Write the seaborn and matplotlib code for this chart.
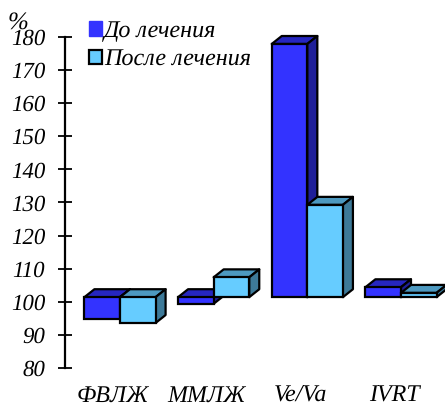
import matplotlib
matplotlib.use("Agg")
import matplotlib.pyplot as plt
import matplotlib.transforms as mtrans
from matplotlib.patches import Patch, Polygon
import pandas as pd
import seaborn as sns

# values
categories = ["ФВЛЖ", "ММЛЖ", "Ve/Va", "IVRT"]
before = [94.8, 99.4, 177.9, 104.4]
after = [93.6, 107.4, 129.3, 102.7]
series_names = ["До лечения", "После лечения"]
baseline = 101.4
y_ticks = list(range(80, 181, 10))

# colours: front, top, side
colors_front = ["#3333FF", "#66CCFF"]
colors_top = ["#2626C0", "#4D99C0"]
colors_side = ["#1F1F99", "#3D7A99"]
depth_x = 0.107
depth_y = 2.4

sns.set_style("white")
plt.rcParams["font.family"] = ["Liberation Serif", "DejaVu Serif"]
plt.rcParams["font.style"] = "italic"
plt.rcParams["text.hinting"] = "none"

df = pd.DataFrame({
    "cat": categories * 2,
    "serie": [series_names[0]] * 4 + [series_names[1]] * 4,
    "value": before + after,
})
df["delta"] = df["value"] - baseline

fig = plt.figure(figsize=(4.45, 4.07), dpi=100)
ax = fig.add_axes([65 / 445, 1 - 368 / 407, 380 / 445, 331 / 407])

sns.barplot(data=df, x="cat", y="delta", hue="serie", hue_order=series_names,
            palette=colors_front, saturation=1, width=0.76, gap=0, dodge=True,
            edgecolor="black", linewidth=1.6, bottom=baseline, legend=False, ax=ax)

# fake 3D: top and side face for every bar
for s, container in enumerate(ax.containers):
    for i, bar in enumerate(container):
        x0 = bar.get_x()
        x1 = x0 + bar.get_width()
        y0 = min(bar.get_y(), bar.get_y() + bar.get_height())
        y1 = max(bar.get_y(), bar.get_y() + bar.get_height())
        z = 3 + i * 3 + s * 1.5
        top = Polygon([(x0, y1), (x1, y1), (x1 + depth_x, y1 + depth_y), (x0 + depth_x, y1 + depth_y)],
                      fc=colors_top[s], ec="black", lw=1.6, zorder=z, clip_on=False, joinstyle="round")
        side = Polygon([(x1, y0), (x1, y1), (x1 + depth_x, y1 + depth_y), (x1 + depth_x, y0 + depth_y)],
                       fc=colors_side[s], ec="black", lw=1.6, zorder=z, clip_on=False, joinstyle="round")
        ax.add_patch(top)
        ax.add_patch(side)
        bar.set_zorder(z + 0.5)
        bar.set_clip_on(False)

ax.set_xlim(-0.587, 3.47)
ax.set_ylim(80, 180)
ax.set_yticks(y_ticks, labels=[str(t) for t in y_ticks], style="italic")
ax.set_xlabel("")
ax.set_ylabel("")
sns.despine(ax=ax, bottom=True)
ax.spines["left"].set_linewidth(1.6)
ax.spines["left"].set_color("black")
ax.patch.set_alpha(0)

ax.tick_params(axis="y", direction="inout", length=9.5, width=1.3, color="black",
               pad=9.6, labelsize=16.5, labelcolor="black", left=True)
ax.tick_params(axis="x", length=0, pad=12, labelsize=17.3, labelcolor="black", bottom=False)
shift = mtrans.ScaledTranslation(-7 / 100, 0, fig.dpi_scale_trans)
for lab in ax.get_xticklabels():
    lab.set_style("italic")
    lab.set_transform(lab.get_transform() + shift)

handles = [Patch(fc=colors_front[0], ec=colors_front[0], lw=1),
           Patch(fc=colors_front[1], ec="black", lw=1.6)]
ax.legend(handles, series_names, frameon=False, fontsize=17.4, loc="upper left",
          bbox_to_anchor=(0.063, 1.05), handlelength=0.53, handleheight=0.53,
          handletextpad=0.1, labelspacing=0.28, borderpad=0, borderaxespad=0, labelcolor="black")

fig.text(8 / 445, 1 - 29 / 407, "%", fontsize=18, color="black", ha="left", va="baseline", style="italic")

fig.savefig("out.png", dpi=100, facecolor="white")
